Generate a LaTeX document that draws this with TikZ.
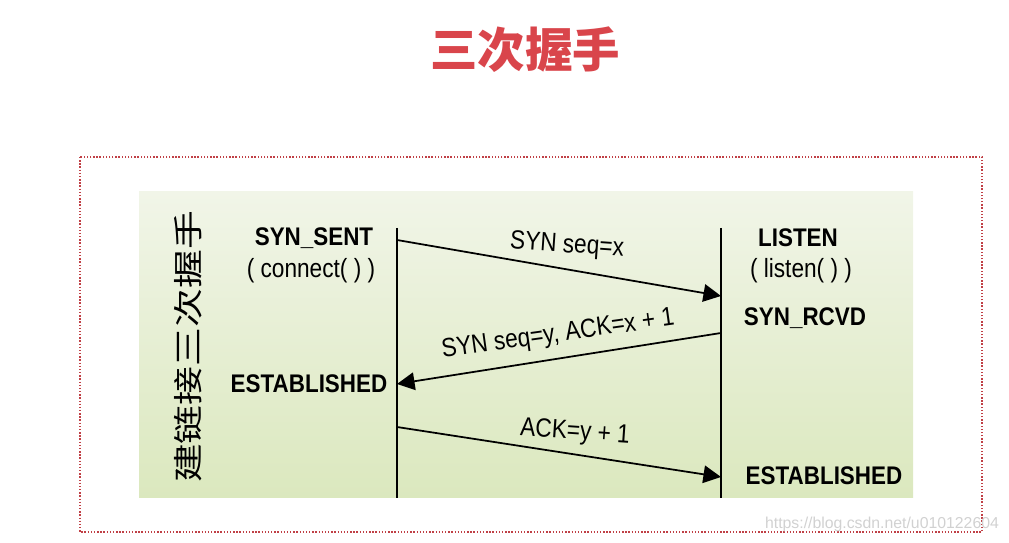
\documentclass[tikz,border=0pt]{standalone}
\usepackage{graphicx}
\usepackage{fontspec}
\setmainfont{Liberation Sans}
\newfontfamily\cjk{Noto Sans CJK SC}
\usetikzlibrary{arrows.meta, positioning}
\definecolor{titlered}{RGB}{217,69,75}
\definecolor{borderred}{RGB}{192,64,70}
\definecolor{paneltop}{RGB}{241,245,232}
\definecolor{panelbot}{RGB}{219,232,190}
\newcommand{\nar}[2][0.86]{\scalebox{#1}[1]{#2}}

\begin{document}
\begin{tikzpicture}[x=0.02cm, y=-0.02cm,
    state/.style={font=\fontsize{14.5}{16}\selectfont\bfseries, inner sep=0pt},
    call/.style={font=\fontsize{15}{17}\selectfont, inner sep=0pt},
    msg/.style={font=\fontsize{15}{17}\selectfont, inner sep=0pt},
    life/.style={line width=1pt},
    seg/.style={line width=1pt, -{Triangle[length=10pt, width=10pt]}}]
\useasboundingbox (0,0) rectangle (1009,543);
\node[text=titlered] (title) at (525,50) {\cjk\bfseries\fontsize{27}{27}\selectfont 三次握手};
\draw[borderred, densely dotted, line width=0.8pt] (80,157) rectangle (982,532);
\shade[top color=paneltop, bottom color=panelbot] (139,192) rectangle (913,498);
\node[rotate=90, inner sep=0pt] (side) at (188,347) {\cjk\fontsize{17}{17}\selectfont\scalebox{1.3}[1]{建链接三次握手}};
\coordinate (cTop) at (397,228);
\coordinate (cBot) at (397,498);
\coordinate (sTop) at (721,228);
\coordinate (sBot) at (721,498);
\draw[life] (cTop) -- (cBot);
\draw[life] (sTop) -- (sBot);
\node[state] (synsent) at (314,238) {\nar[0.88]{SYN\_SENT}};
\node[call] (connect) at (311,271) {\nar{( connect( ) )}};
\node[state] (listen) at (798,238) {\nar[0.88]{LISTEN}};
\node[call] (lsn) at (801,271) {\nar{( listen( ) )}};
\node[state] (synrcvd) at (805,318) {\nar[0.88]{SYN\_RCVD}};
\node[state] (estc) at (309,384) {\nar[0.88]{ESTABLISHED}};
\node[state] (ests) at (824,476) {\nar[0.88]{ESTABLISHED}};
\coordinate (c1) at (397,240);
\coordinate (s1) at (721,296);
\coordinate (s2) at (721,333);
\coordinate (c2) at (397,384);
\coordinate (c3) at (397,427);
\coordinate (s3) at (721,477);
\draw[seg] (c1) -- (s1);
\draw[seg] (s2) -- (c2);
\draw[seg] (c3) -- (s3);
\node[msg, rotate=-4] (m1) at (567,246) {\nar{SYN seq=x}};
\node[msg, rotate=8] (m2) at (558,335) {\nar{SYN seq=y, ACK=x + 1}};
\node[msg, rotate=-4] (m3) at (575,433) {\nar{ACK=y + 1}};
\node[font=\fontsize{9}{9}\selectfont, text=black!18] (mark) at (882,524) {https://blog.csdn.net/u010122604};
\end{tikzpicture}
\end{document}
